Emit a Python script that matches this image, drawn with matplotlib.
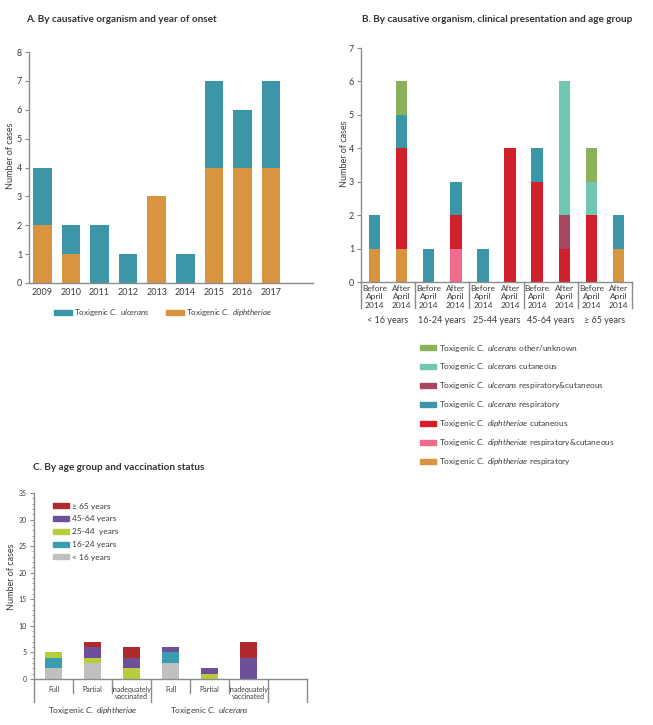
import numpy as np
import matplotlib
matplotlib.use("Agg")
import matplotlib.pyplot as plt
from matplotlib.patches import Patch

plt.rcParams['font.family'] = ['Lato', 'DejaVu Sans']
plt.rcParams['mathtext.fontset'] = 'custom'
plt.rcParams['mathtext.rm'] = 'Lato'
plt.rcParams['mathtext.it'] = 'Lato:italic'

# ---- Panel A data
years = ['2009', '2010', '2011', '2012', '2013', '2014', '2015', '2016', '2017']
a_diph = [2, 1, 0, 0, 3, 0, 4, 4, 4]
a_ulc = [2, 1, 2, 1, 0, 1, 3, 2, 3]

# ---- Panel B data
b_ticks = ['Before\nApril\n2014', 'After\nApril\n2014'] * 5
b_groups = ['< 16 years', '16-24 years', '25-44 years', '45-64 years', '\u2265 65 years']
b_d_resp = [1, 1, 0, 0, 0, 0, 0, 0, 0, 1]
b_d_respcut = [0, 0, 0, 1, 0, 0, 0, 0, 0, 0]
b_d_cut = [0, 3, 0, 1, 0, 4, 3, 1, 2, 0]
b_u_resp = [1, 1, 1, 1, 1, 0, 1, 0, 0, 1]
b_u_respcut = [0, 0, 0, 0, 0, 0, 0, 1, 0, 0]
b_u_cut = [0, 0, 0, 0, 0, 0, 0, 4, 1, 0]
b_u_other = [0, 1, 0, 0, 0, 0, 0, 0, 1, 0]

# ---- Panel C data
c_ticks = ['Full', 'Partial', 'Inadequately\nvaccinated'] * 2
c_groups = ['Toxigenic $\\mathit{C.\\ diphtheriae}$', 'Toxigenic $\\mathit{C.\\ ulcerans}$']
c_lt16 = [2, 3, 0, 3, 0, 0]
c_16_24 = [2, 0, 0, 2, 0, 0]
c_25_44 = [1, 1, 2, 0, 1, 0]
c_45_64 = [0, 2, 2, 1, 1, 4]
c_ge65 = [0, 1, 2, 0, 0, 3]

W, H = 653, 725
fig = plt.figure(figsize=(W / 100, H / 100), dpi=100)


def rect(x0, y0, x1, y1):
    return [x0 / W, 1 - y1 / H, (x1 - x0) / W, (y1 - y0) / H]


spine_col = '#8c8c8c'
txt_col = '#3c3c3c'


def style(ax):
    for s in ['top', 'right']:
        ax.spines[s].set_visible(False)
    for s in ['left', 'bottom']:
        ax.spines[s].set_color(spine_col)
        ax.spines[s].set_linewidth(1.0)
    ax.tick_params(axis='y', length=3, color=spine_col, labelsize=6.5, labelcolor=txt_col, pad=2)
    ax.tick_params(axis='x', length=0, labelcolor=txt_col)


teal = '#3b97a8'
orange = '#d99441'

# ================= Panel A
axA = fig.add_axes(rect(29, 52, 313, 283))
style(axA)
xa = np.arange(len(years))
axA.bar(xa, a_diph, 0.65, color=orange)
axA.bar(xa, a_ulc, 0.65, bottom=a_diph, color=teal)
axA.set_xlim(-0.47, 9.47)
axA.set_ylim(0, 8)
axA.set_xticks(xa)
axA.set_xticklabels(years, fontsize=6.5)
axA.set_ylabel('Number of cases', fontsize=6.5, color=txt_col)
axA.yaxis.set_label_coords(-0.05, 0.55)
fig.text(26 / W, 1 - 20 / H, 'A. By causative organism and year of onset',
         fontsize=7.2, fontweight='bold', color='#333333', va='center')
hA = [Patch(color=teal, label='Toxigenic $\\mathit{C.\\ ulcerans}$'),
      Patch(color=orange, label='Toxigenic $\\mathit{C.\\ diphtheriae}$')]
fig.legend(handles=hA, loc='center left', bbox_to_anchor=(47 / W, 1 - 313 / H), ncol=2,
           frameon=False, fontsize=5.8, handlelength=2.2, handleheight=0.55,
           columnspacing=2.0, handletextpad=0.3, labelcolor=txt_col)

# ================= Panel B
axB = fig.add_axes(rect(361, 48, 632, 282))
style(axB)
xb = np.arange(len(b_ticks))
b_series = [(b_d_resp, orange), (b_d_respcut, '#ef6a8c'), (b_d_cut, '#d0202b'),
            (b_u_resp, teal), (b_u_respcut, '#a8465f'), (b_u_cut, '#71c8b0'),
            (b_u_other, '#8cb15b')]
bottom = np.zeros(len(xb))
for vals, col in b_series:
    axB.bar(xb, vals, 0.42, bottom=bottom, color=col)
    bottom += np.array(vals)
axB.set_xlim(-0.5, 9.5)
axB.set_ylim(0, 7)
axB.set_xticks(xb)
axB.set_xticklabels(b_ticks, fontsize=6, linespacing=1.25)
axB.tick_params(axis='x', pad=2)
axB.set_ylabel('Number of cases', fontsize=6.5, color=txt_col)
axB.yaxis.set_label_coords(-0.045, 0.55)
trB = axB.get_xaxis_transform()
for xs in [-0.5, 1.5, 3.5, 5.5, 7.5, 9.5]:
    axB.plot([xs, xs], [0, -0.111], transform=trB, color=spine_col, lw=1.0, clip_on=False)
for i, g in enumerate(b_groups):
    axB.text(2 * i + 0.5, -0.165, g, transform=trB, ha='center', va='center',
             fontsize=6.5, color=txt_col)
fig.text(362 / W, 1 - 20 / H, 'B. By causative organism, clinical presentation and age group',
         fontsize=7.2, fontweight='bold', color='#333333', va='center')
b_labels = ['Toxigenic $\\mathit{C.\\ diphtheriae}$ respiratory',
            'Toxigenic $\\mathit{C.\\ diphtheriae}$ respiratory&cutaneous',
            'Toxigenic $\\mathit{C.\\ diphtheriae}$ cutaneous',
            'Toxigenic $\\mathit{C.\\ ulcerans}$ respiratory',
            'Toxigenic $\\mathit{C.\\ ulcerans}$ respiratory&cutaneous',
            'Toxigenic $\\mathit{C.\\ ulcerans}$ cutaneous',
            'Toxigenic $\\mathit{C.\\ ulcerans}$ other/unknown']
hB = [Patch(color=c, label=l) for (v, c), l in zip(b_series, b_labels)][::-1]
fig.legend(handles=hB, loc='upper left', bbox_to_anchor=(412 / W, 1 - 335 / H),
           frameon=False, fontsize=6, handlelength=2.0, handleheight=0.55,
           labelspacing=0.95, handletextpad=0.35, labelcolor=txt_col)

# ================= Panel C
axC = fig.add_axes(rect(34, 493, 307, 679))
style(axC)
axC.tick_params(axis='y', labelsize=5, length=3)
axC.tick_params(axis='y', which='minor', length=1.5, color=spine_col)
xc = np.arange(len(c_ticks))
c_series = [(c_lt16, '#c0c0c0', '< 16 years'), (c_16_24, '#3a9cb0', '16-24 years'),
            (c_25_44, '#b8cd3c', '25-44  years'), (c_45_64, '#6d4f9a', '45-64 years'),
            (c_ge65, '#b0292a', '\u2265 65 years')]
bottom = np.zeros(len(xc))
for vals, col, lab in c_series:
    axC.bar(xc, vals, 0.42, bottom=bottom, color=col)
    bottom += np.array(vals)
axC.set_xlim(-0.5, 6.5)
axC.set_ylim(0, 35)
axC.set_yticks(np.arange(0, 36, 5))
axC.set_yticks(np.arange(0, 36, 1), minor=True)
axC.set_xticks(xc)
axC.set_xticklabels(c_ticks, fontsize=5, linespacing=1.0)
axC.tick_params(axis='x', pad=5)
axC.set_ylabel('Number of cases', fontsize=6.5, color=txt_col)
axC.yaxis.set_label_coords(-0.065, 0.55)
trC = axC.get_xaxis_transform()
for xs in [0.5, 1.5, 3.5, 4.5]:
    axC.plot([xs, xs], [0, -0.075], transform=trC, color=spine_col, lw=1.0, clip_on=False)
for xs in [-0.5, 2.5, 5.5, 6.5]:
    axC.plot([xs, xs], [0, -0.124], transform=trC, color=spine_col, lw=1.0, clip_on=False)
axC.text(1, -0.172, c_groups[0], transform=trC, ha='center', va='center', fontsize=6, color=txt_col)
axC.text(4, -0.172, c_groups[1], transform=trC, ha='center', va='center', fontsize=6, color=txt_col)
fig.text(33 / W, 1 - 467 / H, 'C. By age group and vaccination status',
         fontsize=7.2, fontweight='bold', color='#333333', va='center')
hC = [Patch(color=c, label=l) for v, c, l in c_series][::-1]
fig.legend(handles=hC, loc='upper left', bbox_to_anchor=(45 / W, 1 - 495 / H),
           frameon=False, fontsize=6, handlelength=2.0, handleheight=0.55,
           labelspacing=0.7, handletextpad=0.3, labelcolor=txt_col)

fig.savefig('out.png', dpi=100)
